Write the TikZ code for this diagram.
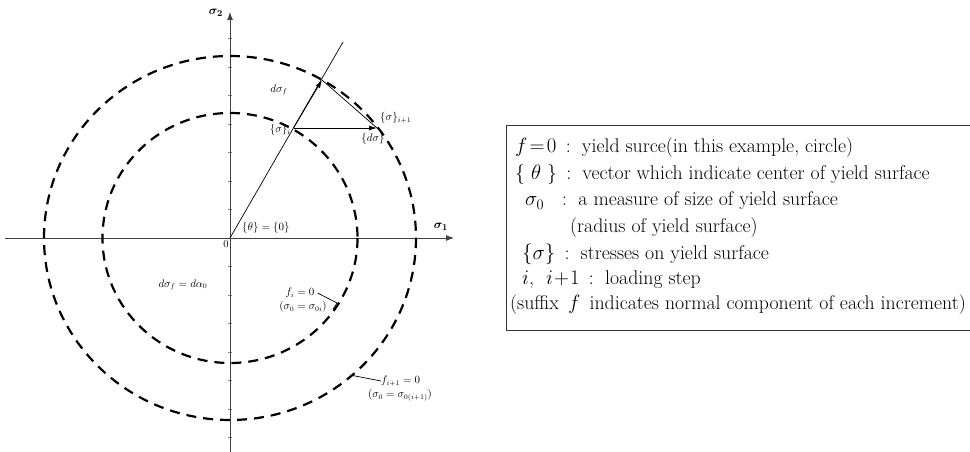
\documentclass[tikz,border=0pt]{standalone}
\usepackage{amsmath,bm}
\usetikzlibrary{arrows.meta}
\tikzset{
  axis/.style={line width=0.9pt, draw=black!75, -{Latex[length=8pt,width=6pt]}},
  dashcirc/.style={line width=2.2pt, dash pattern=on 10pt off 7pt},
  vec/.style={line width=0.8pt, -{Latex[length=8pt,width=5pt]}},
  thin line/.style={line width=0.7pt},
  lbl/.style={inner sep=0pt, font=\fontsize{10.5}{11}\selectfont},
  boxtxt/.style={inner sep=0pt, anchor=west, font=\rmfamily\fontsize{19.8}{22}\selectfont},
  tick/.style={line width=0.4pt, draw=black!45}
}
\begin{document}
\begin{tikzpicture}[x=1pt,y=-1pt]
\useasboundingbox (0,0) rectangle (970,452);
% coordinates
\coordinate (O) at (230,238);
\coordinate (xS) at (5,238);
\coordinate (xE) at (454,238);
\coordinate (yS) at (230,452);
\coordinate (yE) at (230,12);
\coordinate (R) at (343,42);
\coordinate (A) at (293.5,128);
\coordinate (B) at (322,80);
\coordinate (C) at (377,128);
% ticks on vertical axis
\foreach \k in {-7,...,-1,1,2,...,7}{
  \draw[tick] (228,238+28.5*\k) -- (232,238+28.5*\k);
}
% axes
\draw[axis] (xS) -- (xE);
\draw[axis] (yS) -- (yE);
% circles
\draw[dashcirc] (O) ellipse [x radius=186, y radius=182];
\draw[dashcirc] (O) ellipse [x radius=127.5, y radius=125];
% radial line and vectors
\draw[thin line] (O) -- (R);
\draw[vec] (A) -- (B);
\draw[thin line] (B) -- (C);
\draw[vec] (A) -- (C);
% labels
\node[inner sep=0pt, font=\fontsize{13}{14}\selectfont] (s2) at (216,13) {$\bm{\sigma_2}$};
\node[inner sep=0pt, font=\fontsize{13}{14}\selectfont] (s1) at (441,227) {$\bm{\sigma_1}$};
\node[lbl] (zero) at (226,244) {0};
\node[lbl, anchor=west] (theta) at (242,228) {$\{\theta\}=\{0\}$};
\node[lbl] (dsf) at (279,90) {$d\sigma_f$};
\node[lbl, anchor=east] (si) at (291,130) {$\{\sigma\}_i$};
\node[lbl, anchor=west] (si1) at (380,118) {$\{\sigma\}_{i+1}$};
\node[lbl] (dsig) at (373,139) {$\{d\sigma\}$};
\node[lbl] (eq) at (183,285) {$d\sigma_f=d\alpha_0$};
\node[lbl] (fi) at (300,293) {$f_i=0$};
\node[lbl] (fis) at (303,307) {$(\sigma_0=\sigma_{0i})$};
\node[lbl, anchor=west] (fi1) at (381,381) {$f_{i+1}=0$};
\node[lbl] (fi1s) at (400,395) {$(\sigma_0=\sigma_{0(i+1)})$};
% leaders
\coordinate (Li) at (337,303);
\coordinate (Lh) at (333,309);
\draw[thin line] (fi.east) ++(3,0) -- (Li) -- (Lh);
\coordinate (Lo) at (350,375);
\draw[thin line] (fi1.west) -- (Lo);
% legend box
\draw[line width=1pt, draw=black!80] (506,125) rectangle (970.5,330);
\node[boxtxt] (l1) at (515,148) {$f\!=\!0$ \,:\, yield surce(in this example, circle)};
\node[boxtxt] (l2) at (515,175) {\{ $\theta$ \} \,:\, vector which indicate center of yield surface};
\node[boxtxt] (l3) at (525,201) {$\sigma_0$ \ \ :\, a measure of size of yield surface};
\node[boxtxt] (l4) at (570,228) {(radius of yield surface)};
\node[boxtxt] (l5) at (522,254) {$\{\sigma\}$ \,:\, stresses on yield surface};
\node[boxtxt] (l6) at (522,280) {$i$, \ $i\!+\!1$ \,:\, loading step};
\node[boxtxt] (l7) at (510,305) {(suffix \,$f$\, indicates normal component of each increment)};
\end{tikzpicture}
\end{document}
